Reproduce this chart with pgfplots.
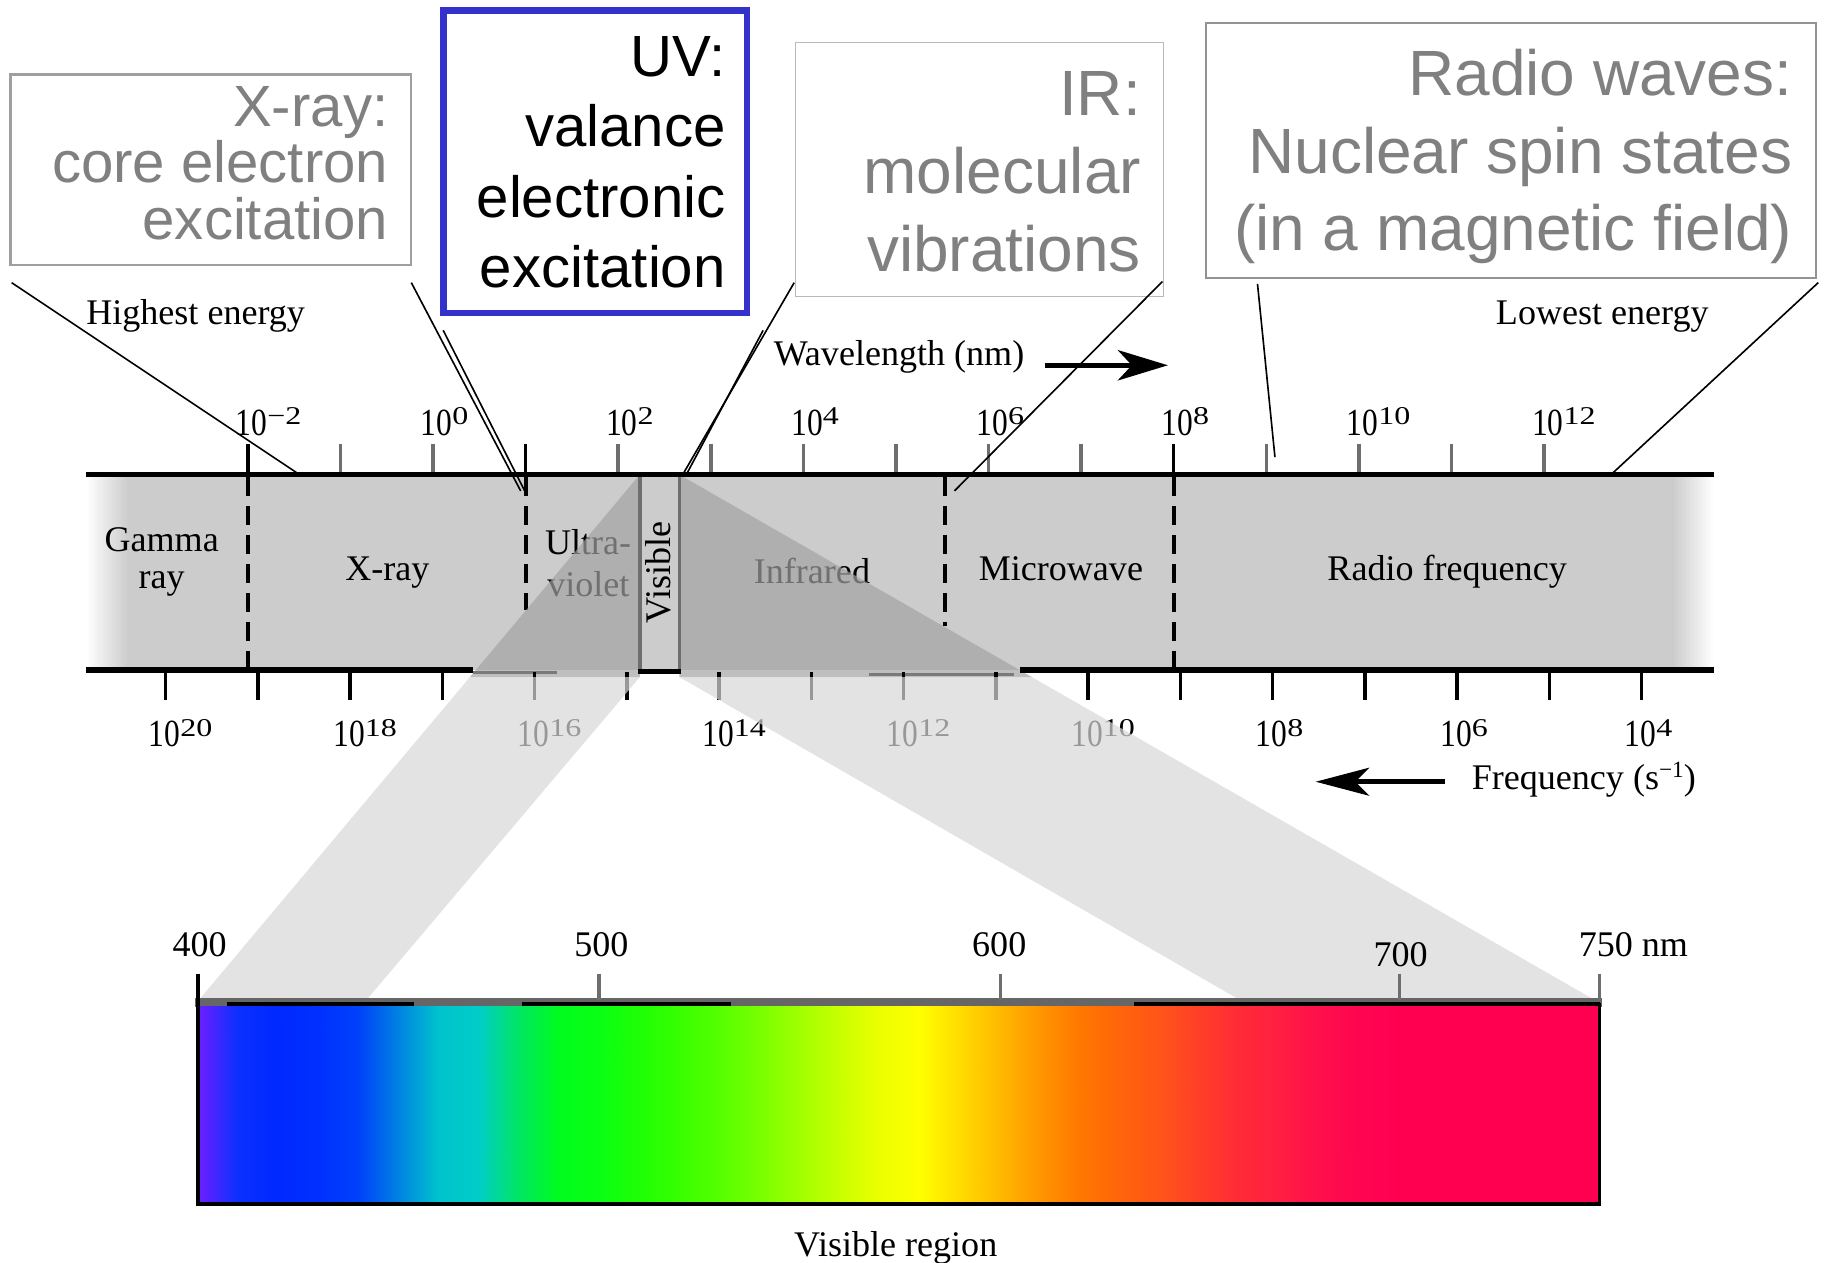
\documentclass[border=0pt]{standalone}
\usepackage{pgfplots}
\pgfplotsset{compat=1.18}
\usepackage{graphicx}
\usepackage{fontspec}
\setmainfont{Liberation Serif}
\newfontfamily\arial{Liberation Sans}
\usetikzlibrary{arrows.meta}
\definecolor{bandgray}{HTML}{CCCCCC}
\definecolor{boxtext}{HTML}{808080}
\definecolor{uvblue}{HTML}{3333CC}
\definecolor{tickgray}{HTML}{6E6E6E}
\definecolor{midgray}{HTML}{7A7A7A}
\definecolor{stripgray}{HTML}{666666}
\definecolor{ovdark}{gray}{0.64}
\definecolor{ovlight}{gray}{0.845}
\newcommand\tm{\fontsize{31}{37}\selectfont}
\newcommand\pten[1]{\scalebox{0.82}[1]{\fontsize{33}{33}\selectfont 10}\raisebox{9pt}{\scalebox{1.25}[1]{\fontsize{22}{22}\selectfont #1}}}
\pgfplotsset{colormap={spectrum}{
 rgb255=(110,30,255)
 rgb255=(10,48,255)
 rgb255=(0,40,255)
 rgb255=(0,48,255)
 rgb255=(0,65,250)
 rgb255=(0,130,225)
 rgb255=(0,195,205)
 rgb255=(0,205,200)
 rgb255=(0,230,100)
 rgb255=(0,252,30)
 rgb255=(10,255,20)
 rgb255=(30,255,5)
 rgb255=(55,255,0)
 rgb255=(85,255,0)
 rgb255=(120,255,0)
 rgb255=(160,255,0)
 rgb255=(200,255,0)
 rgb255=(235,255,0)
 rgb255=(255,255,0)
 rgb255=(255,220,0)
 rgb255=(255,185,0)
 rgb255=(255,150,0)
 rgb255=(255,120,0)
 rgb255=(255,100,10)
 rgb255=(255,85,25)
 rgb255=(255,62,40)
 rgb255=(255,42,55)
 rgb255=(255,30,65)
 rgb255=(255,15,75)
 rgb255=(255,5,80)
 rgb255=(255,0,80)
 rgb255=(255,0,80)
 rgb255=(255,0,80)
 rgb255=(255,0,80)
 rgb255=(255,0,80)
 rgb255=(255,0,80)
}}
\begin{document}
\begin{tikzpicture}
\useasboundingbox (0,0) rectangle (1568pt,1085pt);
\begin{axis}[at={(0,0)}, anchor=south west, scale only axis,
  width=1568pt, height=1085pt, xmin=0, xmax=1568, ymin=0, ymax=1085,
  y dir=reverse, hide axis, clip=false]
% ---------- band ----------
\addplot[draw=none, fill=bandgray] coordinates {(109,408)(1439,408)(1439,576)(109,576)} -- cycle;
\addplot[draw=none, left color=white, right color=bandgray] coordinates {(74,408)(110,408)(110,576)(74,576)} -- cycle;
\addplot[draw=none, left color=bandgray, right color=white] coordinates {(1438,408)(1473,408)(1473,576)(1438,576)} -- cycle;
% dashed boundaries
\addplot[black, line width=3.5pt, dash pattern=on 16pt off 9pt] coordinates {(213,410)(213,576)};
\addplot[black, line width=3.5pt, dash pattern=on 16pt off 9pt] coordinates {(451.8,410)(451.8,524)};
\addplot[black, line width=3.5pt, dash pattern=on 16pt off 9pt] coordinates {(812,410)(812,538)};
\addplot[black, line width=3.5pt, dash pattern=on 16pt off 9pt] coordinates {(1009,410)(1009,576)};
% band text
\node[font=\tm, anchor=base] at (139,474) {Gamma};
\node[font=\tm, anchor=base] at (139,506) {ray};
\node[font=\tm, anchor=base] at (333,499) {X-ray};
\node[font=\tm, anchor=base west] at (465,477) {Ultra-};
\node[font=\tm, anchor=base west] at (467,512.5) {violet};
\node[font=\tm, anchor=base] at (698,502) {Infrared};
\node[font=\tm, anchor=base] at (912,499) {Microwave};
\node[font=\tm, anchor=base] at (1244,499) {Radio frequency};
% dark overlay in band
\addplot[draw=none, fill=ovdark, fill opacity=0.69] coordinates {(550,408)(550,582)(404,582)} -- cycle;
\addplot[draw=none, fill=ovdark, fill opacity=0.69] coordinates {(584,408)(887,582)(584,582)} -- cycle;
% visible strip
\addplot[tickgray, line width=3pt] coordinates {(550,408)(550,577)};
\addplot[tickgray, line width=3pt] coordinates {(584,408)(584,577)};
\node[font=\tm, rotate=90, anchor=base] at (576,492) {Visible};
% band edges
\addplot[black, line width=4.5pt] coordinates {(74,408)(1473,408)};
\addplot[black, line width=4.5pt] coordinates {(74,576)(407,576)};
\addplot[black, line width=4.5pt] coordinates {(548.5,577)(585.5,577)};
\addplot[black, line width=4.5pt] coordinates {(877,576)(1473,576)};
\addplot[midgray, line width=3pt] coordinates {(407,578)(479,578)};
\addplot[midgray, line width=3pt] coordinates {(747,580)(872,580)};
% top ticks
\pgfplotsinvokeforeach{292.6,372.2,531.4,611,690.6,770.2,849.8,929.4,1088.6,1168.2,1247.8,1327.4}{
  \addplot[tickgray, line width=3pt] coordinates {(#1,382)(#1,406)};}
\pgfplotsinvokeforeach{213,451.8,1009}{
  \addplot[black, line width=3pt] coordinates {(#1,382)(#1,406)};}
% bottom ticks
\pgfplotsinvokeforeach{142.3,221.6,300.9,380.2,459.5,538.8,618.1,697.4,776.7,856,935.3,1014.6,1093.9,1173.2,1252.5,1331.8,1411.1}{
  \addplot[black, line width=3pt] coordinates {(#1,578)(#1,602)};}
% wavelength labels
\node[anchor=base west, inner sep=0pt] at (202.5,374) {\pten{−2}};
\node[anchor=base west, inner sep=0pt] at (361.7,374) {\pten{0}};
\node[anchor=base west, inner sep=0pt] at (520.9,374) {\pten{2}};
\node[anchor=base west, inner sep=0pt] at (680.1,374) {\pten{4}};
\node[anchor=base west, inner sep=0pt] at (839.3,374) {\pten{6}};
\node[anchor=base west, inner sep=0pt] at (998.5,374) {\pten{8}};
\node[anchor=base west, inner sep=0pt] at (1157.7,374) {\pten{10}};
\node[anchor=base west, inner sep=0pt] at (1316.9,374) {\pten{12}};
% frequency labels
\node[anchor=base west, inner sep=0pt] at (127.8,642) {\pten{20}};
\node[anchor=base west, inner sep=0pt] at (286.4,642) {\pten{18}};
\node[anchor=base west, inner sep=0pt] at (445,642) {\pten{16}};
\node[anchor=base west, inner sep=0pt] at (603.6,642) {\pten{14}};
\node[anchor=base west, inner sep=0pt] at (762.2,642) {\pten{12}};
\node[anchor=base west, inner sep=0pt] at (920.8,642) {\pten{10}};
\node[anchor=base west, inner sep=0pt] at (1079.4,642) {\pten{8}};
\node[anchor=base west, inner sep=0pt] at (1238,642) {\pten{6}};
\node[anchor=base west, inner sep=0pt] at (1396.6,642) {\pten{4}};
% light projection wedges
\addplot[draw=none, fill=ovlight, fill opacity=0.71] coordinates {(404,582)(550,582)(313,862)(169,862)} -- cycle;
\addplot[draw=none, fill=ovlight, fill opacity=0.71] coordinates {(584,582)(887,582)(1375,862)(1070,862)} -- cycle;
% axis captions
\node[font=\tm, anchor=base west, inner sep=0pt] at (74,279) {Highest energy};
\node[font=\tm, anchor=base east, inner sep=0pt] at (1469,279) {Lowest energy};
\node[font=\tm, anchor=base west, inner sep=0pt] at (665,314.4) {Wavelength (nm)};
\addplot[black, line width=4.5pt, -{Stealth[length=43pt, width=26pt, inset=12pt]}] coordinates {(898,314)(1004,314)};
\node[font=\tm, anchor=base west, inner sep=0pt] at (1265,678.6) {Frequency (s\raisebox{10pt}{\fontsize{20}{20}\selectfont −1})};
\addplot[black, line width=4pt, -{Stealth[length=46pt, width=24pt, inset=12pt]}] coordinates {(1242,672)(1131,672)};
% ---------- visible spectrum ----------
\addplot[draw=none, fill=stripgray] coordinates {(168,858)(1377,858)(1377,866)(168,866)} -- cycle;
\addplot[patch, shader=interp, point meta=x, colormap name=spectrum, point meta min=170, point meta max=1375]
  coordinates {(170,865)(1375,865)(1375,1034) (170,865)(1375,1034)(170,1034)};
\addplot[black, line width=3pt] coordinates {(170,862)(170,1035)(1375,1035)(1375,862)};
\addplot[black, line width=3pt] coordinates {(195,863)(356,863)};
\addplot[black, line width=3pt] coordinates {(449,863)(628,863)};
\addplot[black, line width=3pt] coordinates {(975,863)(1375,863)};
\addplot[black, line width=3pt] coordinates {(170,837)(170,862)};
\pgfplotsinvokeforeach{515,860,1203,1375}{
  \addplot[tickgray, line width=3pt] coordinates {(#1,837)(#1,860)};}
\node[font=\tm, anchor=base, inner sep=0pt] at (171.6,822.6) {400};
\node[font=\tm, anchor=base, inner sep=0pt] at (517,822.6) {500};
\node[font=\tm, anchor=base, inner sep=0pt] at (859,822.6) {600};
\node[font=\tm, anchor=base, inner sep=0pt] at (1204,831) {700};
\node[font=\tm, anchor=base west, inner sep=0pt] at (1357,822.6) {750 nm};
\node[font=\tm, anchor=base, inner sep=0pt] at (770,1080) {Visible region};
% ---------- callout boxes ----------
\addplot[draw=gray!75, line width=1.8pt] coordinates {(9,64)(353.6,64)(353.6,228)(9,228)} -- cycle;
\addplot[draw=uvblue, line width=5.5pt] coordinates {(381.3,9)(642,9)(642,269)(381.3,269)} -- cycle;
\addplot[draw=gray!55, line width=1.3pt] coordinates {(683.7,36.5)(1000,36.5)(1000,255)(683.7,255)} -- cycle;
\addplot[draw=gray!85, line width=1.8pt] coordinates {(1036.6,20)(1561,20)(1561,239)(1036.6,239)} -- cycle;
% connector lines
\addplot[black, line width=1.4pt] coordinates {(10,243)(256,407)};
\addplot[black, line width=1.4pt] coordinates {(353.6,243)(447.6,422)};
\addplot[black, line width=1.4pt] coordinates {(381,284)(452.6,425)};
\addplot[black, line width=1.4pt] coordinates {(682.7,243)(587.7,406.6)};
\addplot[black, line width=1.4pt] coordinates {(656,284)(590,408)};
\addplot[black, line width=1.4pt] coordinates {(999.3,242)(820.5,422)};
\addplot[black, line width=1.4pt] coordinates {(1081,244)(1096,393)};
\addplot[black, line width=1.4pt] coordinates {(1563,243)(1386,407)};
% box texts
\node[font=\arial\fontsize{50}{60}\selectfont, text=boxtext, anchor=base east, inner sep=0pt] at (334,109) {X-ray:};
\node[font=\arial\fontsize{50}{60}\selectfont, text=boxtext, anchor=base east, inner sep=0pt] at (334,157) {core electron};
\node[font=\arial\fontsize{50}{60}\selectfont, text=boxtext, anchor=base east, inner sep=0pt] at (334,205.8) {excitation};
\node[font=\arial\fontsize{50}{60}\selectfont, text=black, anchor=base east, inner sep=0pt] at (624,66) {UV:};
\node[font=\arial\fontsize{50}{60}\selectfont, text=black, anchor=base east, inner sep=0pt] at (624,126) {valance};
\node[font=\arial\fontsize{50}{60}\selectfont, text=black, anchor=base east, inner sep=0pt] at (624,187) {electronic};
\node[font=\arial\fontsize{50}{60}\selectfont, text=black, anchor=base east, inner sep=0pt] at (624,247) {excitation};
\node[font=\arial\fontsize{55}{66}\selectfont, text=boxtext, anchor=base east, inner sep=0pt] at (981,99) {IR:};
\node[font=\arial\fontsize{55}{66}\selectfont, text=boxtext, anchor=base east, inner sep=0pt] at (981,166) {molecular};
\node[font=\arial\fontsize{55}{66}\selectfont, text=boxtext, anchor=base east, inner sep=0pt] at (981,233.5) {vibrations};
\node[font=\arial\fontsize{55}{66}\selectfont, text=boxtext, anchor=base east, inner sep=0pt] at (1541,82.5) {Radio waves:};
\node[font=\arial\fontsize{55}{66}\selectfont, text=boxtext, anchor=base east, inner sep=0pt] at (1541,149) {Nuclear spin states};
\node[font=\arial\fontsize{55}{66}\selectfont, text=boxtext, anchor=base east, inner sep=0pt] at (1541,215.5) {(in a magnetic field)};
\end{axis}
\end{tikzpicture}
\end{document}
